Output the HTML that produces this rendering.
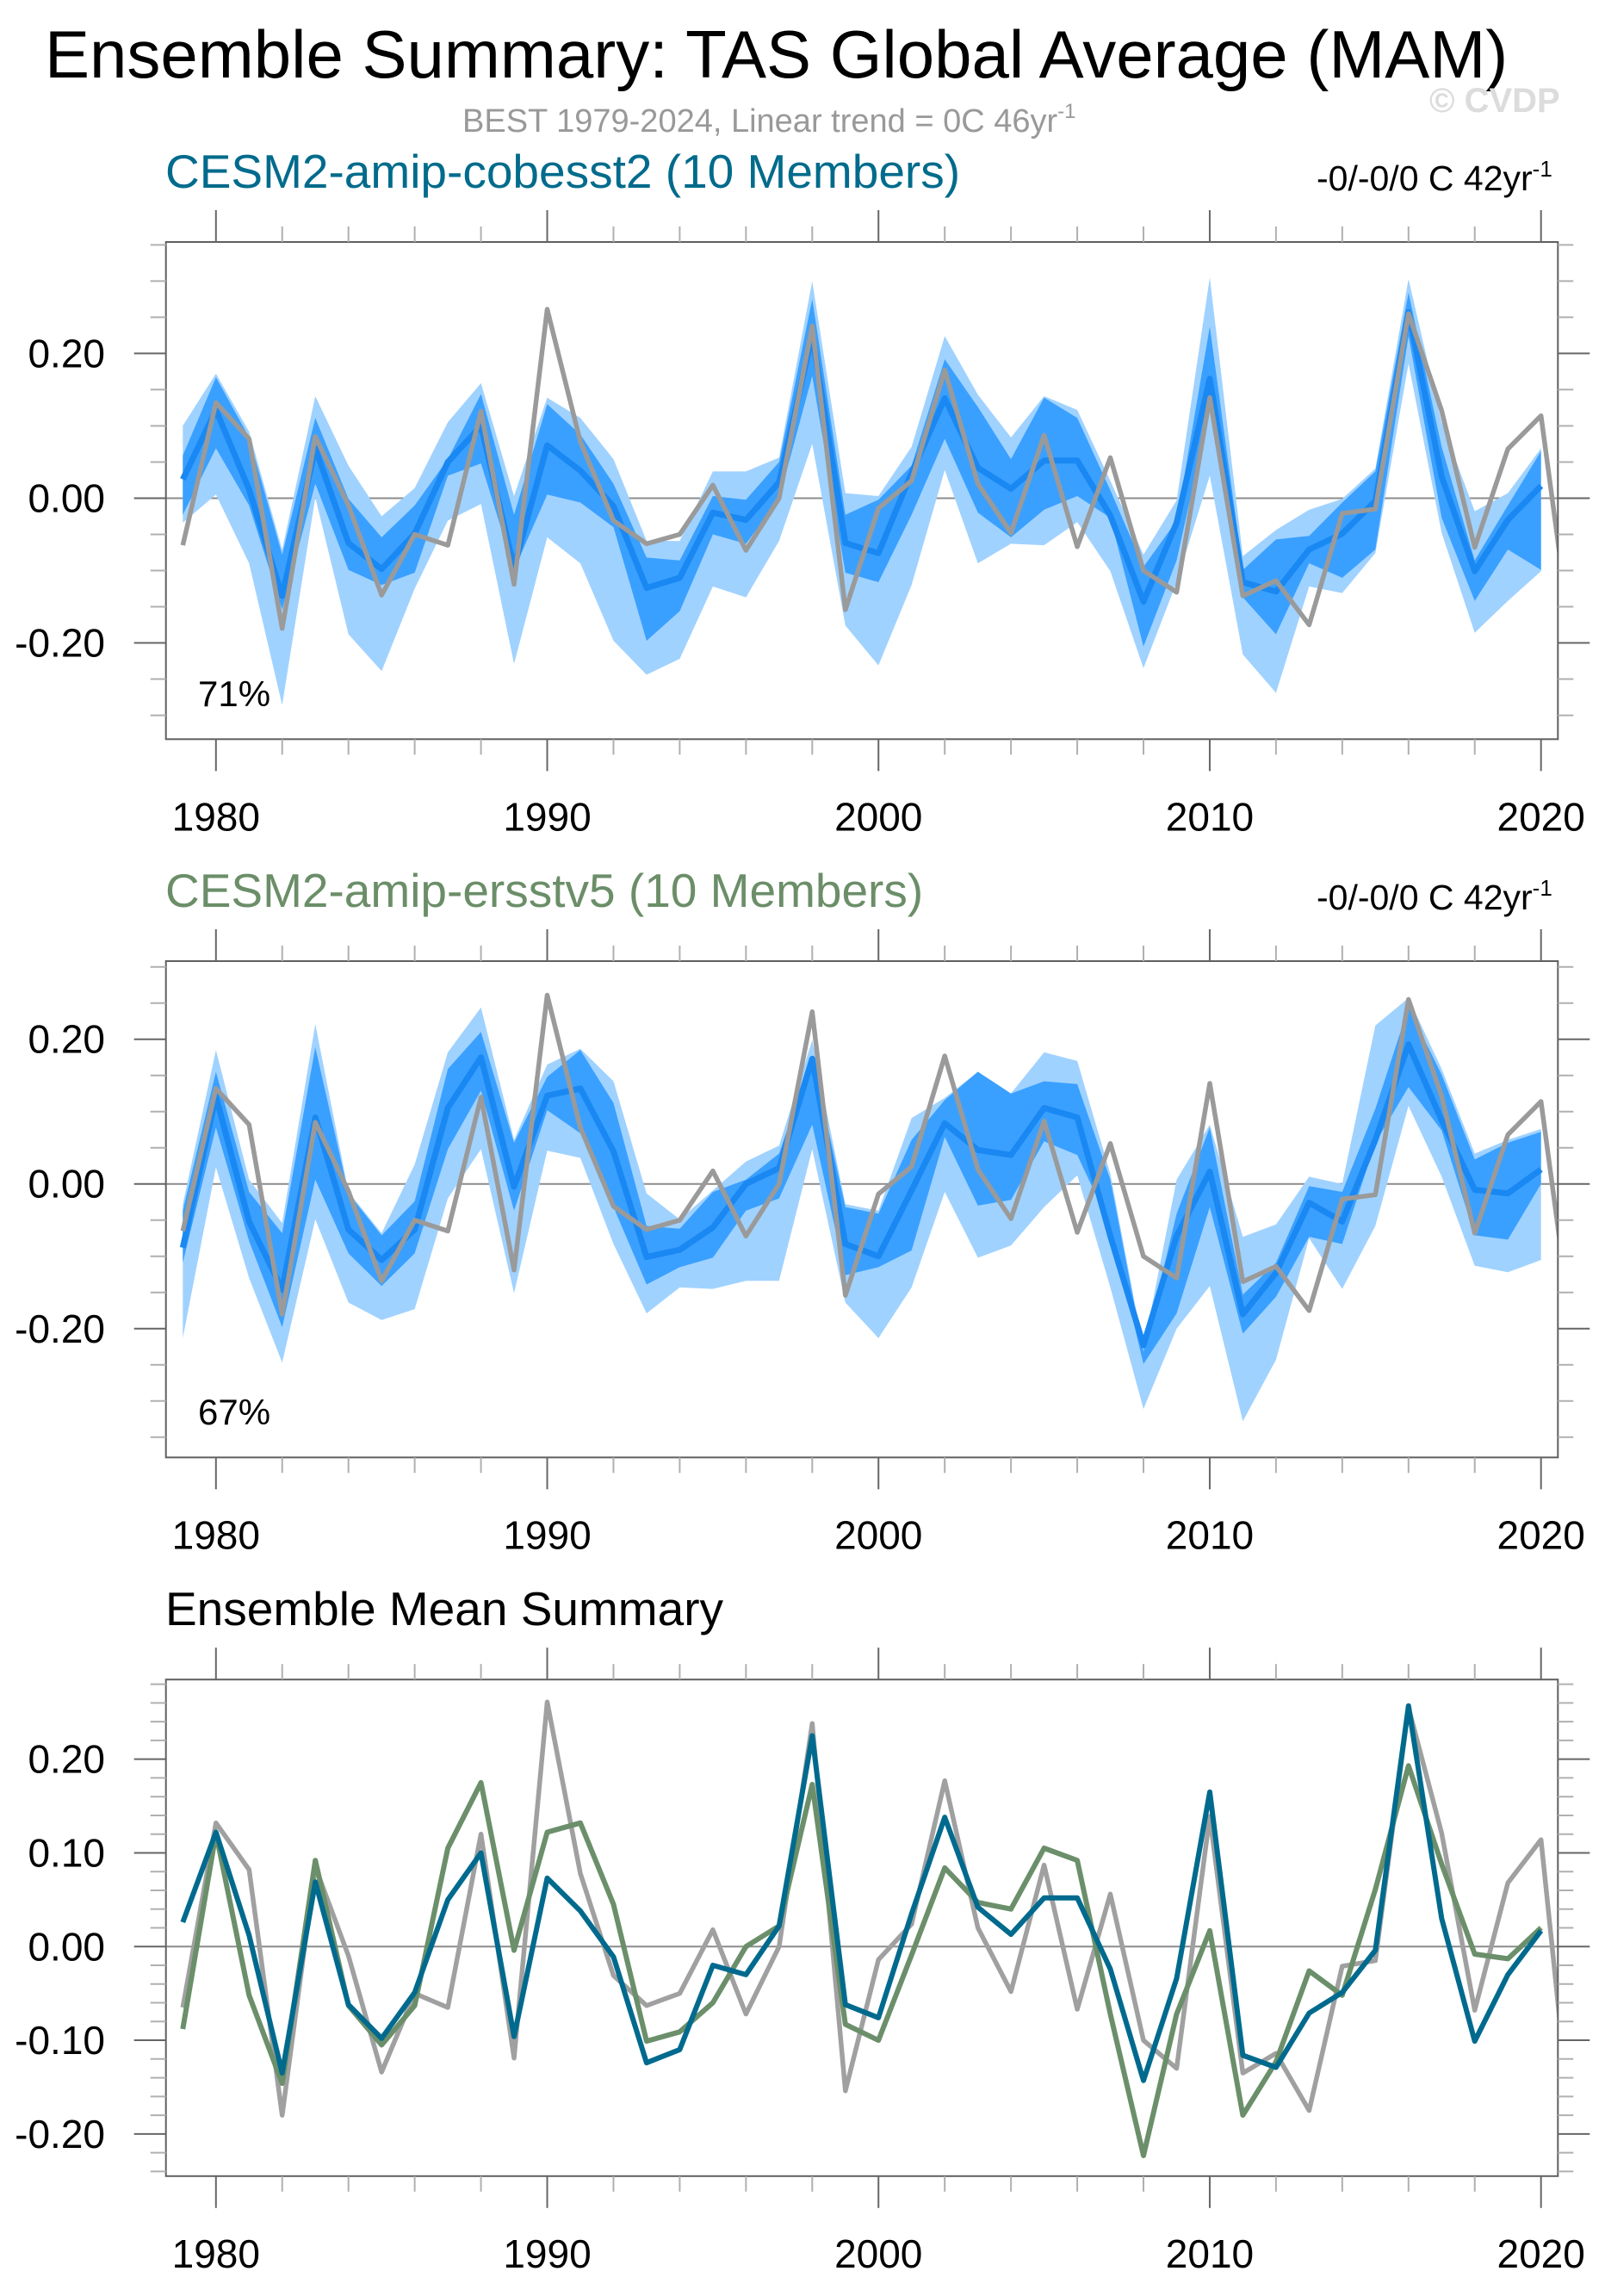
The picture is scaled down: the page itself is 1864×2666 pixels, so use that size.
<!DOCTYPE html>
<html><head><meta charset="utf-8">
<style>
html,body{margin:0;padding:0;background:#fff;}
svg{display:block;font-family:"Liberation Sans",Arial,sans-serif;}
</style></head>
<body>
<svg id="chart" width="1864" height="2666" viewBox="0 0 1864 2666" xmlns="http://www.w3.org/2000/svg">
<text x="52" y="90" font-size="78" fill="#000">Ensemble Summary: TAS Global Average (MAM)</text>
<text x="537" y="153" font-size="38" fill="#999">BEST 1979-2024, Linear trend = 0C 46yr<tspan dy="-16" font-size="24">-1</tspan></text>
<text x="1660" y="130" font-size="40" font-weight="bold" fill="#dcdcdc">© CVDP</text>
<g id="panels"></g>
</svg>
<script>
const years = [1979,1980,1981,1982,1983,1984,1985,1986,1987,1988,1989,1990,1991,1992,1993,1994,1995,1996,1997,1998,1999,2000,2001,2002,2003,2004,2005,2006,2007,2008,2009,2010,2011,2012,2013,2014,2015,2016,2017,2018,2019,2020];
const obsYears = [1979,1980,1981,1982,1983,1984,1985,1986,1987,1988,1989,1990,1991,1992,1993,1994,1995,1996,1997,1998,1999,2000,2001,2002,2003,2004,2005,2006,2007,2008,2009,2010,2011,2012,2013,2014,2015,2016,2017,2018,2019,2020,2021];
const obsBEST = [-0.065,0.132,0.082,-0.18,0.085,-0.01,-0.134,-0.05,-0.065,0.12,-0.119,0.261,0.078,-0.031,-0.063,-0.05,0.018,-0.072,0.0,0.238,-0.154,-0.014,0.024,0.177,0.02,-0.048,0.087,-0.067,0.056,-0.10,-0.13,0.139,-0.135,-0.114,-0.175,-0.021,-0.015,0.255,0.121,-0.068,0.068,0.114,-0.227];
const meanCobe = [0.026,0.122,0.012,-0.135,0.069,-0.062,-0.098,-0.049,0.05,0.1,-0.096,0.073,0.038,-0.011,-0.124,-0.11,-0.02,-0.03,0.022,0.225,-0.062,-0.076,0.035,0.138,0.042,0.013,0.052,0.052,-0.024,-0.143,-0.034,0.165,-0.116,-0.129,-0.071,-0.049,-0.004,0.257,0.03,-0.101,-0.03,0.017];
const meanErsst = [-0.088,0.121,-0.052,-0.146,0.092,-0.063,-0.105,-0.063,0.105,0.175,-0.004,0.122,0.132,0.045,-0.101,-0.091,-0.06,0.0,0.022,0.173,-0.083,-0.1,-0.009,0.084,0.047,0.04,0.105,0.092,-0.072,-0.223,-0.072,0.017,-0.18,-0.123,-0.026,-0.052,0.061,0.193,0.088,-0.008,-0.013,0.02];
const cobeOuterHi = [0.10,0.172,0.092,-0.071,0.141,0.045,-0.025,0.014,0.105,0.159,0.003,0.139,0.111,0.054,-0.059,-0.059,0.037,0.037,0.056,0.30,0.007,0.003,0.071,0.224,0.143,0.084,0.141,0.122,0.024,-0.078,-0.003,0.305,-0.08,-0.044,-0.016,-0.001,0.041,0.303,0.105,-0.018,0.007,0.069];
const cobeInnerHi = [0.059,0.167,0.084,-0.078,0.111,-0.001,-0.054,-0.01,0.054,0.144,-0.023,0.13,0.088,0.02,-0.082,-0.086,0.003,-0.002,0.05,0.275,-0.023,-0.002,0.045,0.192,0.126,0.054,0.139,0.111,0.011,-0.095,-0.031,0.237,-0.099,-0.057,-0.052,-0.006,0.037,0.284,0.071,-0.086,-0.01,0.065];
const cobeInnerLo = [-0.023,0.069,-0.01,-0.154,0.02,-0.099,-0.12,-0.103,0.031,0.048,-0.099,0.005,-0.006,-0.04,-0.197,-0.156,-0.05,-0.063,-0.001,0.169,-0.103,-0.116,-0.023,0.082,-0.02,-0.054,-0.016,0.003,-0.027,-0.205,-0.086,0.122,-0.137,-0.188,-0.09,-0.11,-0.071,0.224,-0.027,-0.142,-0.071,-0.099];
const cobeOuterLo = [-0.034,0.005,-0.09,-0.286,0.001,-0.188,-0.239,-0.125,-0.031,-0.008,-0.229,-0.054,-0.09,-0.197,-0.244,-0.222,-0.122,-0.137,-0.059,0.075,-0.176,-0.231,-0.12,0.039,-0.09,-0.063,-0.065,-0.033,-0.101,-0.235,-0.116,0.031,-0.216,-0.269,-0.122,-0.131,-0.076,0.186,-0.048,-0.186,-0.142,-0.101];
const ersOuterHi = [-0.028,0.185,0.006,-0.054,0.221,-0.011,-0.068,0.027,0.182,0.244,0.061,0.165,0.187,0.142,-0.013,-0.049,-0.009,0.031,0.053,0.199,-0.028,-0.037,0.091,0.119,0.155,0.125,0.182,0.17,0.014,-0.228,0.006,0.082,-0.073,-0.056,0.01,0.0,0.219,0.257,0.159,0.042,0.061,0.076];
const ersInnerHi = [-0.037,0.155,-0.011,-0.068,0.189,-0.013,-0.071,-0.024,0.159,0.21,0.057,0.148,0.185,0.112,-0.058,-0.062,-0.011,0.006,0.042,0.176,-0.032,-0.041,0.061,0.116,0.155,0.125,0.142,0.138,0.006,-0.232,-0.041,0.078,-0.153,-0.109,-0.003,-0.011,0.104,0.244,0.151,0.034,0.057,0.072];
const ersInnerLo = [-0.109,0.078,-0.079,-0.198,0.006,-0.096,-0.141,-0.096,0.048,0.129,-0.037,0.102,0.07,-0.032,-0.139,-0.115,-0.102,-0.037,-0.02,0.082,-0.126,-0.115,-0.092,0.065,-0.03,-0.022,0.059,0.04,-0.058,-0.249,-0.179,-0.032,-0.207,-0.156,-0.073,-0.083,0.057,0.134,0.074,-0.071,-0.077,0.0];
const ersOuterLo = [-0.213,0.023,-0.13,-0.247,-0.049,-0.164,-0.188,-0.173,-0.02,0.048,-0.151,0.046,0.036,-0.083,-0.179,-0.143,-0.145,-0.134,-0.134,0.048,-0.164,-0.213,-0.143,-0.011,-0.102,-0.085,-0.032,0.012,-0.143,-0.311,-0.2,-0.141,-0.328,-0.243,-0.075,-0.145,-0.058,0.108,0.01,-0.113,-0.122,-0.105];
const xTickYears = [1980,1990,2000,2010,2020];
const yTicksBand = [-0.2,0.0,0.2];
const yTickLabelsBand = ["-0.20","0.00","0.20"];
const yTicksMean = [-0.2,-0.1,0.0,0.1,0.2];
const yTickLabelsMean = ["-0.20","-0.10","0.00","0.10","0.20"];

const NS = "http://www.w3.org/2000/svg";
const root = document.getElementById('panels');
const X0 = 192.7, X1 = 1809.3, YR0 = 1978.49, YR1 = 2020.51;
function xs(yr){ return X0 + (yr - YR0) / (YR1 - YR0) * (X1 - X0); }
function mk(tag, attrs, parent){ const e = document.createElementNS(NS, tag); for (const k in attrs) e.setAttribute(k, attrs[k]); (parent||root).appendChild(e); return e; }

function panel(cfg){
  const g = mk('g', {});
  
  
  const ys = v => cfg.bottom - (v - cfg.vmin) / (cfg.vmax - cfg.vmin) * (cfg.bottom - cfg.top);
  const cid = cfg.name + '-clip';
  const cp = mk('clipPath', {id: cid}, g);
  mk('rect', {x: X0, y: cfg.top, width: X1 - X0, height: cfg.bottom - cfg.top}, cp);
  const plot = mk('g', {'clip-path': 'url(#' + cid + ')'}, g);
  
  
  const z = mk('line', {x1: X0, x2: X1, y1: ys(0), y2: ys(0), stroke: '#8c8c8c', 'stroke-width': 2}, plot);
  
  
  function band(hi, lo, fill, nm){
    let d = '';
    years.forEach((yr, i) => { d += (i ? 'L' : 'M') + xs(yr).toFixed(1) + ',' + ys(hi[i]).toFixed(1); });
    for (let i = years.length - 1; i >= 0; i--) d += 'L' + xs(years[i]).toFixed(1) + ',' + ys(lo[i]).toFixed(1);
    const p = mk('path', {d: d + 'Z', fill: fill}, plot);
    
    
  }
  function line(xsArr, vals, color, w, nm){
    const pts = vals.map((v, i) => xs(xsArr[i]).toFixed(1) + ',' + ys(v).toFixed(1)).join(' ');
    const p = mk('polyline', {points: pts, fill: 'none', stroke: color, 'stroke-width': w, 'stroke-linejoin': 'round'}, plot);
    
    
  }
  if (cfg.bands){
    band(cfg.bands[0], cfg.bands[3], '#a0d2ff', 'outer-range-band');
    band(cfg.bands[1], cfg.bands[2], '#3aa0ff', 'inner-range-band');
    line(years, cfg.mean, '#1a88f2', 7, 'ensemble-mean-line');
    line(obsYears, obsBEST, '#9a9a9a', 5.5, 'observed-best-line');
  } else {
    line(obsYears, obsBEST, '#a0a0a0', 5.5, 'observed-best-line');
    line(years, meanErsst, '#6b8f6a', 6, 'ersstv5-mean-line');
    line(years, meanCobe, '#006a8e', 6, 'cobesst2-mean-line');
  }
  const fr = mk('rect', {x: X0, y: cfg.top, width: X1 - X0, height: cfg.bottom - cfg.top, fill: 'none', stroke: '#606060', 'stroke-width': 2}, g);
  
  
  for (let yr = 1980; yr <= 2020; yr += 2){
    const major = yr % 10 === 0;
    const L = major ? 37 : 18, col = major ? '#666' : '#b0b0b0';
    mk('line', {x1: xs(yr), x2: xs(yr), y1: cfg.top, y2: cfg.top - L, stroke: col, 'stroke-width': 2}, g);
    mk('line', {x1: xs(yr), x2: xs(yr), y1: cfg.bottom, y2: cfg.bottom + L, stroke: col, 'stroke-width': 2}, g);
  }
  xTickYears.forEach(yr => {
    const t = mk('text', {x: xs(yr), y: cfg.bottom + 106, 'font-size': 46, 'text-anchor': 'middle', fill: '#000'}, g);
    t.textContent = String(yr);
    
    
  });
  const lo = Math.ceil(cfg.vmin / cfg.minor - 1e-6), hi = Math.floor(cfg.vmax / cfg.minor + 1e-6);
  for (let k = lo; k <= hi; k++){
    const v = k * cfg.minor;
    const major = Math.abs(v / cfg.major - Math.round(v / cfg.major)) < 1e-6;
    const L = major ? 37 : 18, col = major ? '#666' : '#b0b0b0';
    mk('line', {x1: X0, x2: X0 - L, y1: ys(v), y2: ys(v), stroke: col, 'stroke-width': 2}, g);
    mk('line', {x1: X1, x2: X1 + L, y1: ys(v), y2: ys(v), stroke: col, 'stroke-width': 2}, g);
  }
  cfg.yTicks.forEach((v, i) => {
    const t = mk('text', {x: 122, y: ys(v) + 16, 'font-size': 46, 'text-anchor': 'end', fill: '#000'}, g);
    t.textContent = cfg.yLabels[i];
    
    
  });
  const tt = mk('text', {x: 192, y: cfg.top - 63, 'font-size': 55, fill: cfg.titleColor}, g);
  tt.textContent = cfg.title;
  
  
  if (cfg.bands){
    const tr = mk('text', {x: 1529, y: cfg.top - 60, 'font-size': 41, fill: '#000'}, g);
    
    
    tr.textContent = '-0/-0/0 C 42yr';
    const s = mk('tspan', {dy: -16, 'font-size': 26}, tr); s.textContent = '-1';
    const pc = mk('text', {x: 230, y: cfg.pctY, 'font-size': 42, fill: '#000'}, g);
    pc.textContent = cfg.pct;
    
    
  }
}

panel({name: 'cobesst2-panel', top: 281, bottom: 858.3, vmin: -0.333, vmax: 0.354, minor: 0.05, major: 0.2,
  yTicks: yTicksBand, yLabels: yTickLabelsBand, title: 'CESM2-amip-cobesst2 (10 Members)', titleColor: '#006b8c',
  bands: [cobeOuterHi, cobeInnerHi, cobeInnerLo, cobeOuterLo], mean: meanCobe, pct: '71%', pctY: 820});
panel({name: 'ersstv5-panel', top: 1116, bottom: 1692.3, vmin: -0.378, vmax: 0.308, minor: 0.05, major: 0.2,
  yTicks: yTicksBand, yLabels: yTickLabelsBand, title: 'CESM2-amip-ersstv5 (10 Members)', titleColor: '#6b8e68',
  bands: [ersOuterHi, ersInnerHi, ersInnerLo, ersOuterLo], mean: meanErsst, pct: '67%', pctY: 1654});
panel({name: 'ensemble-mean-panel', top: 1950.2, bottom: 2526.8, vmin: -0.245, vmax: 0.285, minor: 0.02, major: 0.1,
  yTicks: yTicksMean, yLabels: yTickLabelsMean, title: 'Ensemble Mean Summary', titleColor: '#000'});
</script>
</body></html>
